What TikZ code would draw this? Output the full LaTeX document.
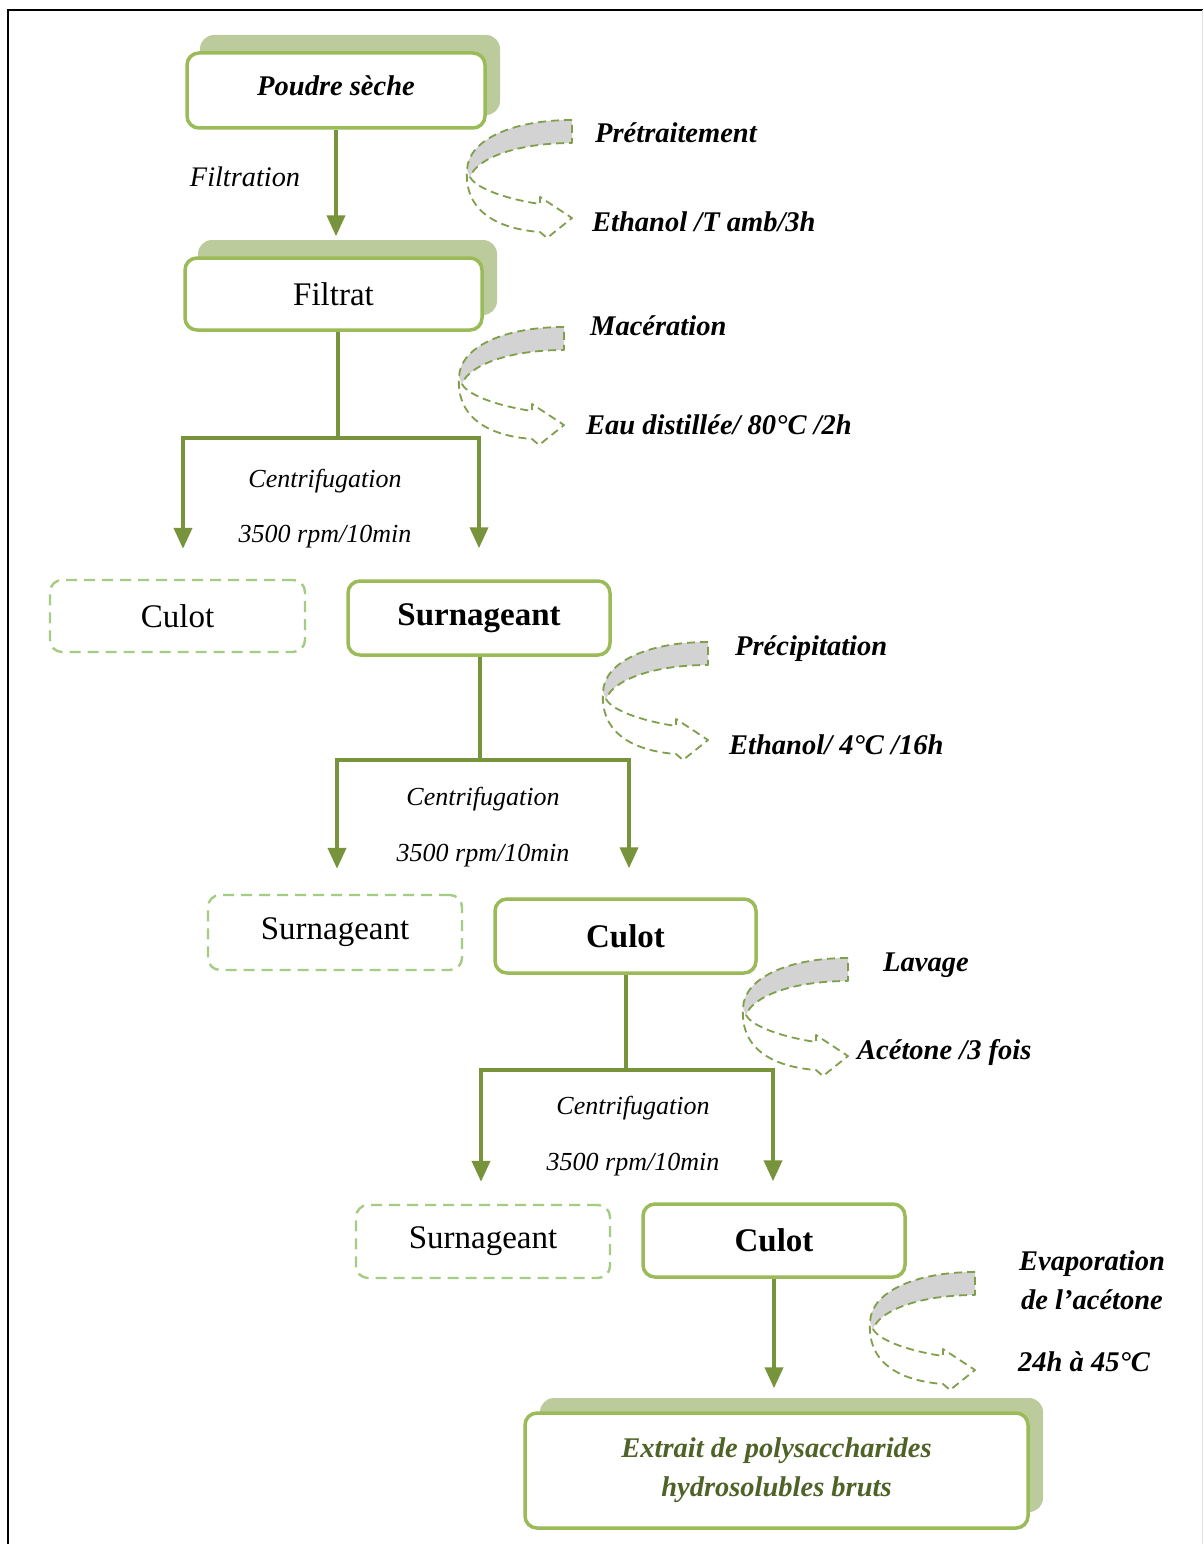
\documentclass[tikz,border=0pt]{standalone}
\usepackage{fontspec}
\setmainfont{Liberation Serif}
\usetikzlibrary{arrows.meta,calc}
\definecolor{gbord}{HTML}{9BBB59}
\definecolor{gshad}{HTML}{BBCB9C}
\definecolor{gdash}{HTML}{A4CC84}
\definecolor{gconn}{HTML}{77933C}
\definecolor{gcdash}{HTML}{7F9F4A}
\definecolor{gfill}{HTML}{D3D3D3}
\definecolor{gtext}{HTML}{4F6228}
\tikzset{
  mainbox/.style={draw=gbord, line width=3.5pt, rounded corners=12pt, fill=white, inner sep=0pt, align=center},
  shadowbox/.style={fill=gshad, rounded corners=14pt, inner sep=0pt},
  dashbox/.style={draw=gdash, line width=2.4pt, dash pattern=on 11pt off 7pt, rounded corners=12pt, inner sep=0pt},
  conn/.style={draw=gconn, line width=4pt},
  arr/.style={conn, -{Triangle[width=18pt,length=21pt]}},
  lbl/.style={font=\fontsize{28.5}{39}\selectfont\bfseries\itshape, anchor=west, inner sep=0pt},
  clbl/.style={font=\fontsize{26}{30}\selectfont\itshape, inner sep=0pt},
  regtxt/.style={font=\fontsize{33}{38}\selectfont},
  boldtxt/.style={font=\fontsize{33}{38}\selectfont\bfseries},
  bitxt/.style={font=\fontsize{28.5}{39}\selectfont\bfseries\itshape},
  carrow/.pic={
    \fill[gfill] (0,0) .. controls (-60,0) and (-104,20) .. (-105,50)
      -- (-102,57) .. controls (-95,38) and (-55,23) .. (0,23) -- cycle;
    \draw[gcdash, line width=1.8pt, dash pattern=on 8pt off 5pt, line join=round]
      (0,0) .. controls (-60,0) and (-104,20) .. (-105,50)
      .. controls (-108,93) and (-72,109) .. (-32,112)
      -- (-25,118) -- (0,98) -- (-32,77) -- (-32,84)
      .. controls (-60,80) and (-95,70) .. (-102,57)
      .. controls (-95,38) and (-55,23) .. (0,23) -- cycle;
  }
}
\begin{document}
\begin{tikzpicture}[x=1pt,y=-1pt]
\useasboundingbox (0,0) rectangle (1203,1544);
\fill[white] (0,0) rectangle (1203,1544);
% frame
\draw[line width=2pt, black] (8,1544) -- (8,10) -- (1203,10);
\draw[line width=1pt, black!12] (1202,10) -- (1202,1544);

% top boxes
\node[shadowbox, minimum width=300pt, minimum height=80pt] (pshadow) at (350,75) {};
\node[mainbox, minimum width=298pt, minimum height=75pt] (poudre) at (336,90.5) {};
\node[bitxt, inner sep=0pt] (poudretxt) at (336,86) {Poudre sèche};
\node[shadowbox, minimum width=299pt, minimum height=75pt] (fshadow) at (347.5,277.5) {};
\node[mainbox, minimum width=297pt, minimum height=72pt, regtxt] (filtrat) at (333.5,294) {Filtrat};

\draw[arr, shorten >=20pt] (poudre.south) -- (poudre.south |- filtrat.north);
\node[font=\fontsize{28.3}{32}\selectfont\itshape, inner sep=0pt] (filt) at (245,177) {Filtration};

% level 1
\node[dashbox, minimum width=255pt, minimum height=72pt, regtxt] (culotA) at (177.5,616) {Culot};
\node[mainbox, minimum width=262pt, minimum height=74pt, boldtxt] (surnA) at (479,618) {Surnageant};
\coordinate (j1) at (338,438);
\coordinate (j1l) at (183,438);
\coordinate (j1r) at (479,438);
\draw[conn] (filtrat.south -| j1) -- (j1);
\draw[arr, shorten >=30pt] (j1) -- (j1l) -- (j1l |- culotA.north);
\draw[arr, shorten >=31pt] (j1) -- (j1r) -- (j1r |- surnA.north);
\node[clbl] (c1) at (325,481) {Centrifugation};
\node[clbl] (r1) at (325,537) {3500 rpm/10min};

% level 2
\node[dashbox, minimum width=254pt, minimum height=75pt, regtxt] (surnB) at (335,932.5) {Surnageant};
\node[mainbox, minimum width=261pt, minimum height=74pt, boldtxt] (culotB) at (625.5,936) {Culot};
\coordinate (j2) at (480,760);
\coordinate (j2l) at (337,760);
\coordinate (j2r) at (629,760);
\draw[conn] (surnA.south -| j2) -- (j2);
\draw[arr, shorten >=25pt] (j2) -- (j2l) -- (j2l |- surnB.north);
\draw[arr, shorten >=29pt] (j2) -- (j2r) -- (j2r |- culotB.north);
\node[clbl] (c2) at (483,799) {Centrifugation};
\node[clbl] (r2) at (483,856) {3500 rpm/10min};

% level 3
\node[dashbox, minimum width=254pt, minimum height=73pt, regtxt] (surnC) at (483,1241.5) {Surnageant};
\node[mainbox, minimum width=262pt, minimum height=73pt, boldtxt] (culotC) at (774,1240.5) {Culot};
\coordinate (j3) at (626,1070);
\coordinate (j3l) at (481,1070);
\coordinate (j3r) at (773,1070);
\draw[conn] (culotB.south -| j3) -- (j3);
\draw[arr, shorten >=22pt] (j3) -- (j3l) -- (j3l |- surnC.north);
\draw[arr, shorten >=21pt] (j3) -- (j3r) -- (j3r |- culotC.north);
\node[clbl] (c3) at (633,1108) {Centrifugation};
\node[clbl] (r3) at (633,1165) {3500 rpm/10min};

% final
\node[shadowbox, minimum width=503pt, minimum height=114pt] (xshadow) at (791.5,1455) {};
\node[mainbox, minimum width=503pt, minimum height=115pt, bitxt, text=gtext] (final) at (776.5,1470.5) {Extrait de polysaccharides\\hydrosolubles bruts};
\draw[arr, shorten >=23pt] (culotC.south) -- (culotC.south |- final.north);

% curved arrows and labels
\pic at (572,120) {carrow};
\node[lbl] (t1a) at (595,133) {Prétraitement};
\node[lbl] (t1b) at (592,222) {Ethanol /T amb/3h};

\pic at (564,327) {carrow};
\node[lbl] (t2a) at (590,326) {Macération};
\node[lbl] (t2b) at (586,425) {Eau distillée/ 80°C /2h};

\pic at (708,642) {carrow};
\node[lbl] (t3a) at (735,649) {Précipitation};
\node[lbl] (t3b) at (729,745) {Ethanol/ 4°C /16h};

\pic at (848,958) {carrow};
\node[lbl] (t4a) at (883,965) {Lavage};
\node[lbl] (t4b) at (857,1052) {Acétone /3 fois};

\pic at (975,1272) {carrow};
\node[lbl, anchor=center, align=center] (t5a) at (1092,1280) {Evaporation\\de l’acétone};
\node[lbl] (t5b) at (1018,1362) {24h à 45°C};
\end{tikzpicture}
\end{document}
